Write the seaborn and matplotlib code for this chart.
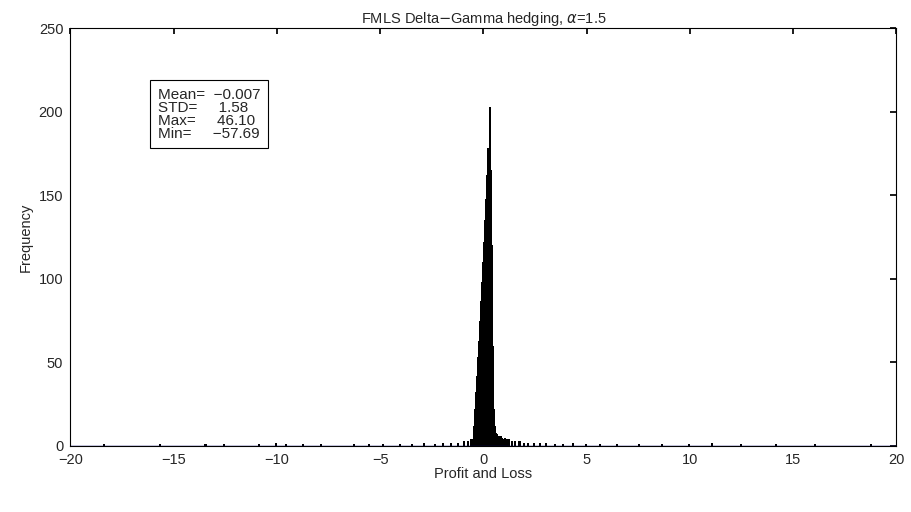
import numpy as np
import pandas as pd
import matplotlib
matplotlib.use("Agg")
import matplotlib.pyplot as plt
import seaborn as sns

# Histogram bins (width 0.05), core of the distribution
core_centers = [-0.525, -0.475, -0.425, -0.375, -0.325, -0.275, -0.225, -0.175,
                -0.125, -0.075, -0.025, 0.025, 0.075, 0.125, 0.175, 0.225,
                0.275, 0.325, 0.375, 0.425, 0.475, 0.525, 0.575, 0.625, 0.675]
core_counts = [4, 12, 22, 32, 42, 53, 63, 75, 87, 98, 110, 122, 135, 148, 162,
               178, 203, 165, 120, 60, 22, 12, 8, 7, 6]

# sparse tails
tail_centers = [-18.4, -15.7, -13.5, -12.6, -10.9, -10.1, -9.6, -8.8, -7.9, -6.3,
                -5.6, -4.9, -4.1, -3.5, -2.9, -2.4, -2.0, -1.6, -1.3, -1.0, -0.8, -0.65,
                0.725, 0.775, 0.825, 0.875, 0.925, 1.0, 1.1, 1.2, 1.35, 1.5, 1.7,
                1.9, 2.1, 2.4, 2.7, 3.0, 3.4, 3.8, 4.3, 4.9, 5.6, 6.4, 7.5, 8.6,
                9.9, 11.0, 12.4, 14.1, 16.0, 18.7]
tail_counts = [1, 1, 1, 1, 1, 2, 1, 1, 1, 1, 1, 1, 1, 1, 2, 1, 2, 2, 2, 3, 3, 4,
               6, 5, 6, 5, 4, 5, 4, 4, 3, 3, 3, 2, 2, 2, 2, 2, 1, 1, 2, 1, 1, 1,
               1, 1, 1, 2, 1, 1, 1, 1]

stats_text = "Mean=  \u22120.007\nSTD=     1.58\nMax=     46.10\nMin=     \u221257.69"

df = pd.DataFrame({
    "x": core_centers + tail_centers,
    "w": core_counts + tail_counts,
})
edges = [round(-20 + 0.05 * i, 3) for i in range(801)]

sns.set_theme(style="white")
plt.rcParams["font.family"] = ["Liberation Sans", "DejaVu Sans"]

fig = plt.figure(figsize=(9.12, 5.12), dpi=100)
ax = fig.add_axes([0.077, 0.129, 0.906, 0.816])
sns.histplot(data=df, x="x", weights="w", bins=edges, color="black",
             edgecolor="black", linewidth=0.4, alpha=1, ax=ax)
for p in ax.patches:
    p.set_antialiased(False)
ax.axhline(0, color="navy", linewidth=1)

ax.set_xlim(-20, 20)
ax.set_ylim(0, 250)
ax.set_xticks(range(-20, 21, 5))
ax.set_yticks(range(0, 251, 50))
ax.tick_params(direction="in", top=True, right=True, labelsize=10.5, length=4,
               color="black", pad=5)
for s in ax.spines.values():
    s.set_color("black")
    s.set_linewidth(0.8)
ax.set_xlabel("Profit and Loss", fontsize=10.5, labelpad=0)
ax.set_ylabel("Frequency", fontsize=10.5)
ax.set_title(r"FMLS Delta$-$Gamma hedging, $\alpha$=1.5", fontsize=10.5, pad=4)

ax.text(0.106, 0.857, stats_text, transform=ax.transAxes, fontsize=11,
        va="top", ha="left", linespacing=0.9,
        bbox=dict(boxstyle="square,pad=0.5", facecolor="white", edgecolor="black", linewidth=0.8))

fig.savefig("out.png", dpi=100)
